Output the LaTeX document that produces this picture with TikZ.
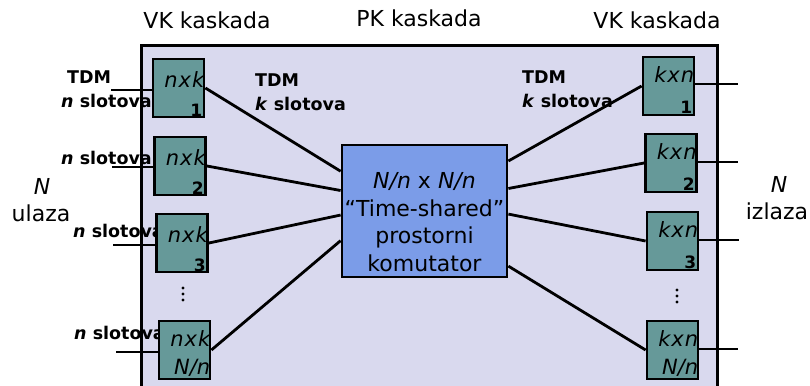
\documentclass[tikz,border=0pt]{standalone}
\usepackage{fontspec}
\setmainfont{DejaVu Sans}
\usetikzlibrary{calc}
\definecolor{panelfill}{HTML}{D9D9EE}
\definecolor{tealbox}{HTML}{669999}
\definecolor{cblue}{HTML}{7B9CE8}
\tikzset{
  panelbox/.style={draw=black, fill=panelfill, line width=2.6pt, minimum width=576pt, minimum height=360pt, anchor=north west, inner sep=0pt},
  vkbox/.style={draw=black, fill=tealbox, line width=2.8pt, minimum width=51pt, minimum height=58pt, inner sep=0pt},
  pkbox/.style={draw=black, fill=cblue, line width=2.8pt, minimum width=165pt, minimum height=132pt, inner sep=0pt},
  conn/.style={draw=black, line width=2.8pt},
  toplbl/.style={font=\fontsize{22}{26}\selectfont, inner sep=0pt},
  sidelbl/.style={font=\fontsize{22}{26}\selectfont, inner sep=0pt},
  tdmlbl/.style={font=\bfseries\fontsize{17.5}{20}\selectfont, inner sep=0pt},
  boxlbl/.style={font=\itshape\fontsize{21}{24}\selectfont, inner sep=0pt, anchor=east},
  numlbl/.style={font=\bfseries\fontsize{17}{19}\selectfont, inner sep=0pt, anchor=east},
  vdot/.style={circle, fill=black, inner sep=0pt, minimum size=3.2pt},
}
\begin{document}
\begin{tikzpicture}[x=1pt,y=-1pt]
\useasboundingbox (0,0) rectangle (810,385);
\begin{scope}
\clip (0,0) rectangle (810,385);
\node[panelbox] (panel) at (140,44) {};
\end{scope}

% top labels
\node[toplbl] (tvk1) at (207,20) {VK kaskada};
\node[toplbl] (tpk) at (419,18) {PK kaskada};
\node[toplbl] (tvk2) at (657,20) {VK kaskada};

% side labels
\node[sidelbl] (nin) at (42,186) {\itshape N};
\node[sidelbl] (ulaza) at (41,213) {ulaza};
\node[sidelbl] (nout) at (779,184) {\itshape N};
\node[sidelbl] (izlaza) at (777,211) {izlaza};

% TDM labels
\node[tdmlbl, anchor=west] (tdm1) at (67,77) {TDM};
\node[tdmlbl, anchor=east] (ns1) at (152,101) {\textit{n} slotova};
\node[tdmlbl, anchor=east] (ns2) at (152,158) {\textit{n} slotova};
\node[tdmlbl, anchor=west] (ns3) at (73,231) {\textit{n} slotova};
\node[tdmlbl, anchor=west] (ns4) at (74,333) {\textit{n} slotova};
\node[tdmlbl, anchor=west] (tdm2) at (255,80) {TDM};
\node[tdmlbl, anchor=west] (ks1) at (255,104) {\textit{k} slotova};
\node[tdmlbl, anchor=west] (tdm3) at (522,77) {TDM};
\node[tdmlbl, anchor=west] (ks2) at (522,101) {\textit{k} slotova};

% boxes
\node[vkbox] (l1) at (178.5,88) {};
\node[vkbox] (l2) at (180,166) {};
\node[vkbox] (l3) at (182,243) {};
\node[vkbox] (l4) at (184.5,350) {};
\node[vkbox] (r1) at (668.5,86) {};
\node[vkbox] (r2) at (671,163) {};
\node[vkbox] (r3) at (672.5,241) {};
\node[vkbox] (r4) at (672.5,350) {};
\node[pkbox] (c) at (424.5,211) {};

% center text
\node[font=\fontsize{22}{27.7}\selectfont, align=center, inner sep=0pt] (ctext) at (424.5,222)
  {\textit{N/n} x \textit{N/n}\\“Time-shared”\\prostorni\\komutator};

% box labels
\node[boxlbl] (l1a) at ($(l1.north east)+(-1,22)$) {n\kern1pt x\kern1pt k};
\node[numlbl] (l1b) at ($(l1.south east)+(-3,-8)$) {1};
\node[boxlbl] (l2a) at ($(l2.north east)+(-1,22)$) {n\kern1pt x\kern1pt k};
\node[numlbl] (l2b) at ($(l2.south east)+(-3,-8)$) {2};
\node[boxlbl] (l3a) at ($(l3.north east)+(-1,22)$) {n\kern1pt x\kern1pt k};
\node[numlbl] (l3b) at ($(l3.south east)+(-3,-8)$) {3};
\node[boxlbl] (l4a) at ($(l4.north east)+(-1,19)$) {n\kern1pt x\kern1pt k};
\node[boxlbl] (l4b) at ($(l4.south east)+(-1,-13)$) {N/n};
\node[boxlbl] (r1a) at ($(r1.north east)+(-1,19)$) {k\kern1pt x\kern1pt n};
\node[numlbl] (r1b) at ($(r1.south east)+(-3,-9)$) {1};
\node[boxlbl] (r2a) at ($(r2.north east)+(-1,19)$) {k\kern1pt x\kern1pt n};
\node[numlbl] (r2b) at ($(r2.south east)+(-3,-9)$) {2};
\node[boxlbl] (r3a) at ($(r3.north east)+(-1,19)$) {k\kern1pt x\kern1pt n};
\node[numlbl] (r3b) at ($(r3.south east)+(-3,-9)$) {3};
\node[boxlbl] (r4a) at ($(r4.north east)+(-1,19)$) {k\kern1pt x\kern1pt n};
\node[boxlbl] (r4b) at ($(r4.south east)+(-1,-13)$) {N/n};

% vertical dots
\foreach \yy [count=\i] in {288,294,300} {
  \node[vdot] (dl\i) at (183,\yy) {};
  \node[vdot] (dr\i) at (677,\yy+2) {};
}

% connectors left
\draw[conn] (l1.east) -- ($(c.north west)!0.205!(c.south west)$);
\draw[conn] (l2.east) -- ($(c.north west)!0.348!(c.south west)$);
\draw[conn] (l3.east) -- ($(c.north west)!0.530!(c.south west)$);
\draw[conn] (l4.east) -- ($(c.north west)!0.720!(c.south west)$);
% connectors right
\draw[conn] ($(c.north east)!0.129!(c.south east)$) -- (r1.west);
\draw[conn] ($(c.north east)!0.333!(c.south east)$) -- (r2.west);
\draw[conn] ($(c.north east)!0.523!(c.south east)$) -- (r3.west);
\draw[conn] ($(c.north east)!0.909!(c.south east)$) -- (r4.west);

% input lines
\coordinate (i1) at (111,90);
\coordinate (i2) at (112,167);
\coordinate (i3) at (113,245);
\coordinate (i4) at (116,352);
\draw[conn] (i1) -- (i1 -| l1.west);
\draw[conn] (i2) -- (i2 -| l2.west);
\draw[conn] (i3) -- (i3 -| l3.west);
\draw[conn] (i4) -- (i4 -| l4.west);

% output lines
\coordinate (o1) at (738,84);
\coordinate (o2) at (738,162);
\coordinate (o3) at (739,240);
\coordinate (o4) at (738,349);
\draw[conn] (o1 -| r1.east) -- (o1);
\draw[conn] (o2 -| r2.east) -- (o2);
\draw[conn] (o3 -| r3.east) -- (o3);
\draw[conn] (o4 -| r4.east) -- (o4);
\end{tikzpicture}
\end{document}
